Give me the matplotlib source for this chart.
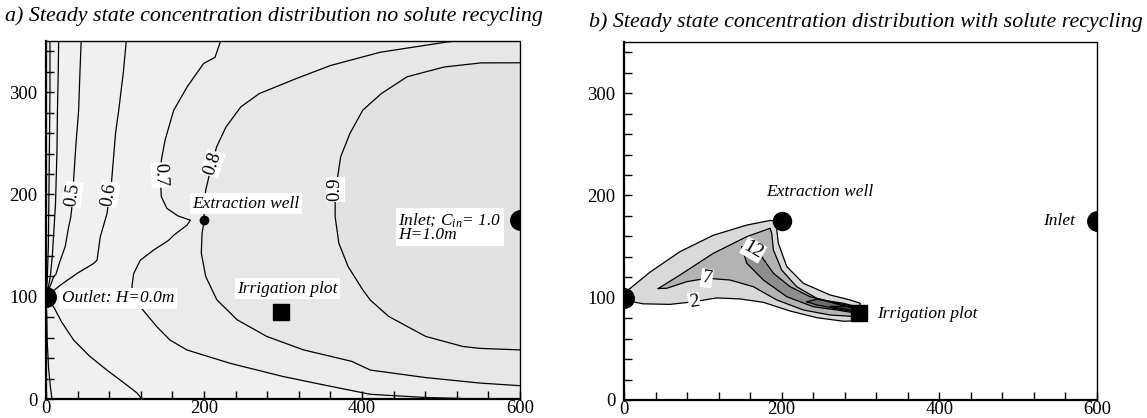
import matplotlib
matplotlib.use("Agg")
import matplotlib.pyplot as plt
from matplotlib.ticker import MultipleLocator

plt.rcParams['font.family'] = ['Liberation Serif', 'DejaVu Serif']
plt.rcParams['mathtext.fontset'] = 'custom'
plt.rcParams['mathtext.it'] = 'Liberation Serif:italic'
plt.rcParams['mathtext.rm'] = 'Liberation Serif'

# ---------------- domain ----------------
x_max, y_max = 600, 350
outlet = (0, 100)
inlet = (600, 175)
well = (200, 175)
plot_site = (298, 85)

# ---------------- (a) contours, no recycling ----------------
c03_top_x = [5, 5, 4, 3, 1.5, 0]
c03_top_y = [350, 300, 220, 150, 115, 102]
c03_bot_x = [0, 1, 1.5, 3.3, 5.5, 7.6]
c03_bot_y = [98, 80, 57, 30, 12, 0]

c04_x = [16, 15.5, 14.5, 13.9, 12, 8, 5.4, 2, 0]
c04_y = [350, 320, 282, 243, 190, 140, 119, 106, 101]

c05_x = [44.5, 43, 41.3, 38, 35, 33.7, 31.4, 28.6, 24.3, 18.1, 12.6, 9.7, 3.3, 0]
c05_y = [350, 320, 282, 250, 215, 194.5, 178, 168, 149, 135.7, 122, 119.4, 106.4, 100]

c06_x = [101.6, 98, 92, 88, 82.8, 79.6, 77.2, 68.7, 64.6, 60.3, 39.2, 18.1, 5.4, 0]
c06_y = [350, 320, 282, 259.6, 210.8, 194.5, 181.3, 158.5, 135.7, 132.5, 122.7, 111.3, 103.2, 100]
c06_bot_x = [0, 9.7, 20, 35, 55, 77, 100, 115, 121.5]
c06_bot_y = [100, 90, 75, 57.6, 42, 28.3, 15, 6, 0]

c07_x = [221.8, 220.6, 213.9, 199.5, 178.5, 161.5, 150.7, 146, 144.6, 146, 153, 167, 182.7,
         178.5, 161.5, 155, 136, 119.4, 111, 108.7, 119.4, 140.4, 157, 178.5, 233, 300, 350,
         410.5, 480, 549.7]
c07_y = [350, 349, 334, 328, 305, 282, 253, 233.6, 217.3, 197.8, 186.4, 179, 174.8,
         170, 160, 155, 145.5, 135.7, 122.7, 109.7, 90, 70.6, 57.6, 47.9, 34.9, 22, 14,
         4.6, 1.5, 0]

c08_x = [520, 507.6, 465, 423, 360, 316.9, 270, 246.6, 227.9, 216, 209.2, 202.2, 199.8, 200.3,
         197.5, 196.6, 202.2, 216.2, 242, 279.4, 326, 387, 410.5, 480, 549, 600]
c08_y = [350, 349, 344, 339, 326, 313.3, 298.6, 285.6, 266, 246.6, 227, 204.3, 184.8, 174.4,
         162, 142.5, 119.7, 97, 77.4, 61.2, 48, 36.8, 28.3, 21, 15.6, 13]

c09_x = [600, 550.8, 504, 457, 424.5, 401, 384.7, 373, 366, 366, 370.7, 382.4, 401, 410.5,
         433.8, 480.6, 527.4, 549, 600]
c09_y = [328.7, 328.6, 324.6, 315, 298.6, 282.4, 259.6, 236.8, 201, 178.3, 152.2, 129.5,
         106.7, 96.7, 80.7, 61.2, 51.4, 49.5, 48]

a_label_text = ['0.5', '0.6', '0.7', '0.8', '0.9']
a_label_x = [34, 80, 145, 211, 366]
a_label_y = [200, 200, 219, 230, 205]
a_label_rot = [82, 80, -88, 72, 90]

# flood greys for (a): below 0.7, 0.7-0.8, 0.8-0.9, above 0.9
a_fill = ['#f0f0f0', '#ebebeb', '#e7e7e7', '#e2e2e2']

# ---------------- (b) contours, with recycling ----------------
c2_x = [0, 7.6, 33, 71, 113, 155.7, 185, 197, 193.8, 195.8, 206.5, 227.5, 261.4, 286.8, 299.5,
        300, 299.5, 278.3, 244.5, 210.7, 176.8, 147.2, 117.6, 88, 58.4, 24.5, 7.6, 0]
c2_y = [105, 109, 125, 145, 161, 171, 175.5, 175, 166.2, 153.2, 130.4, 114.1, 102.7,
        97.8, 94.6, 86, 77.5, 77, 80.5, 87, 95.5, 98.8, 99.8, 96, 93.5, 94, 96.5, 95]

c7_x = [43.5, 71, 113.3, 155.7, 185.3, 187.4, 189.5, 200, 219, 244.5, 274, 295.3,
        295.3, 261.4, 227.5, 193.8, 164, 134.5, 105, 79.6, 54.2, 43.5]
c7_y = [109, 122.2, 143.4, 159.7, 167.9, 163, 146.7, 127.1, 110.8, 99.4, 92.9, 89.7,
        81.5, 83.1, 88, 97.8, 110.8, 117.3, 119, 115.7, 109.2, 109]

c12_x = [149.4, 162, 174.7, 189.5, 210.7, 236, 270, 295, 295.3, 270, 240, 206.5, 176.8,
         155.7, 149.4]
c12_y = [149.9, 147, 140.1, 123.9, 110.8, 101, 94.6, 91, 84.8, 88, 91.2, 101, 117.3,
         133.7, 149.9]

c17_x = [232, 244.5, 278, 296, 296, 278, 244.5, 232]
c17_y = [96.1, 98.5, 94.6, 91, 85.5, 88, 92.9, 96.1]

c22_x = [262, 280, 297, 297, 280, 262]
c22_y = [91.5, 91.5, 89.5, 86.5, 89, 91.5]

b_levels_fill = ['#d9d9d9', '#b3b3b3', '#8e8e8e', '#6b6b6b', '#4a4a4a']

b_label_text = ['2', '7', '12']
b_label_x = [89, 105, 164]
b_label_y = [96, 119, 146.7]
b_label_rot = [8, -8, -30]

# ---------------- figure ----------------
W, H = 1147, 418
fig = plt.figure(figsize=(W / 100, H / 100), dpi=100)
ax_a = fig.add_axes([46 / W, 19 / H, 474 / W, 358 / H])
ax_b = fig.add_axes([624 / W, 18 / H, 473 / W, 358 / H])

tick_fs = 13.5
lab_fs = 12.5
title_fs = 15.8


def style_axes(ax):
    ax.set_xlim(0, x_max)
    ax.set_ylim(0, y_max)
    ax.xaxis.set_major_locator(MultipleLocator(200))
    ax.xaxis.set_minor_locator(MultipleLocator(40))
    ax.yaxis.set_major_locator(MultipleLocator(100))
    ax.yaxis.set_minor_locator(MultipleLocator(20))
    ax.tick_params(which='both', direction='in', top=False, right=False,
                   labelsize=tick_fs)
    ax.tick_params(axis='y', which='both', pad=6)
    ax.tick_params(axis='x', which='both', pad=0.5)
    ax.tick_params(which='major', length=6, width=1)
    ax.tick_params(which='minor', length=6, width=1)
    for side in ('left', 'bottom'):
        ax.spines[side].set_linewidth(1.6)
    for side in ('top', 'right'):
        ax.spines[side].set_linewidth(1.0)
        ax.spines[side].set_linestyle((0, (1, 1)))


style_axes(ax_a)
style_axes(ax_b)

# ---- panel (a) flood + lines ----
ax_a.set_facecolor(a_fill[0])
ax_a.fill(c07_x + [600, 600], c07_y + [0, 350], color=a_fill[1], lw=0, zorder=0.5)
ax_a.fill(c08_x + [600], c08_y + [350], color=a_fill[2], lw=0, zorder=0.6)
ax_a.fill(c09_x, c09_y, color=a_fill[3], lw=0, zorder=0.7)

line_kw = dict(color='black', lw=0.9, zorder=2)
for xs, ys in [(c03_top_x, c03_top_y), (c03_bot_x, c03_bot_y), (c04_x, c04_y),
               (c05_x, c05_y), (c06_x, c06_y), (c06_bot_x, c06_bot_y),
               (c07_x, c07_y), (c08_x, c08_y), (c09_x, c09_y)]:
    ax_a.plot(xs, ys, **line_kw)

for t, x, y, r in zip(a_label_text, a_label_x, a_label_y, a_label_rot):
    ax_a.text(x, y, t, rotation=r, ha='center', va='center', fontsize=13.5, zorder=4,
              bbox=dict(boxstyle='square,pad=0.05', fc='white', ec='none'))

# markers (a)
ax_a.plot(*outlet, 'o', color='black', ms=14, zorder=5)
ax_a.plot(*inlet, 'o', color='black', ms=14, zorder=5)
ax_a.plot(*well, 'o', color='black', ms=6, zorder=5)
ax_a.plot(*plot_site, 's', color='black', ms=11.5, zorder=5)

box = dict(boxstyle='square,pad=0.15', fc='white', ec='none')
ax_a.text(185, 191, 'Extraction well', style='italic', fontsize=lab_fs, va='center',
          ha='left', bbox=box, zorder=6)
ax_a.text(242, 108, 'Irrigation plot', style='italic', fontsize=lab_fs, va='center',
          ha='left', bbox=box, zorder=6)
ax_a.text(20, 98.5, 'Outlet: H=0.0m', style='italic', fontsize=lab_fs, va='center',
          ha='left', bbox=box, zorder=6)
ax_a.text(446, 168, 'Inlet; C$_{in}$= 1.0\nH=1.0m', style='italic', fontsize=lab_fs,
          va='center', ha='left', linespacing=0.85, bbox=box, zorder=6)

# ---- panel (b) flood + lines ----
ax_b.set_facecolor('white')
for xs, ys, c in [(c2_x, c2_y, b_levels_fill[0]), (c7_x, c7_y, b_levels_fill[1]),
                  (c12_x, c12_y, b_levels_fill[2]), (c17_x, c17_y, b_levels_fill[3]),
                  (c22_x, c22_y, b_levels_fill[4])]:
    ax_b.fill(xs, ys, color=c, lw=0, zorder=1)
    ax_b.plot(xs, ys, color='black', lw=0.9, zorder=2)

for t, x, y, r in zip(b_label_text, b_label_x, b_label_y, b_label_rot):
    ax_b.text(x, y, t, rotation=r, ha='center', va='center', fontsize=lab_fs + 1.5, zorder=4,
              bbox=dict(boxstyle='square,pad=0.05', fc='white', ec='none'))

ax_b.plot(*outlet, 'o', color='black', ms=14, zorder=5)
ax_b.plot(*inlet, 'o', color='black', ms=14, zorder=5)
ax_b.plot(*well, 'o', color='black', ms=13, zorder=5)
ax_b.plot(*plot_site, 's', color='black', ms=11.5, zorder=5)

ax_b.text(181, 203, 'Extraction well', style='italic', fontsize=lab_fs, va='center',
          ha='left', zorder=6)
ax_b.text(321, 84, 'Irrigation plot', style='italic', fontsize=lab_fs, va='center',
          ha='left', zorder=6)
ax_b.text(531, 175, 'Inlet', style='italic', fontsize=lab_fs, va='center', ha='left',
          zorder=6)

# titles
fig.text(5 / W, 1 - 16 / H, 'a) Steady state concentration distribution no solute recycling',
         style='italic', fontsize=title_fs, ha='left', va='center')
fig.text(589 / W, 1 - 22 / H, 'b) Steady state concentration distribution with solute recycling',
         style='italic', fontsize=title_fs, ha='left', va='center')

fig.savefig('out.png', dpi=100)
